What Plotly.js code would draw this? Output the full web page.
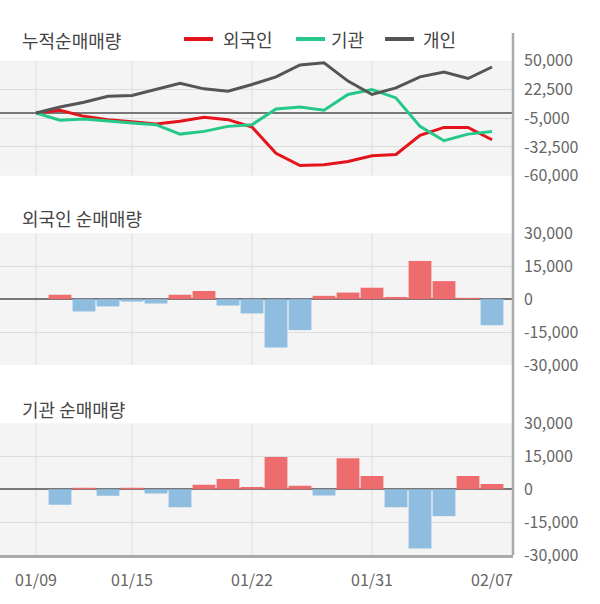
<!DOCTYPE html>
<html>
<head>
<meta charset="utf-8">
<script src="https://cdn.plot.ly/plotly-3.0.1.min.js"></script>
<style>html,body{margin:0;padding:0;background:#fff;}#chart{width:600px;height:604px;}</style>
</head>
<body>
<div id="chart"></div>
<script>
// ---- data ----
const dates = ["01/09","01/10","01/13","01/14","01/15","01/16","01/17","01/20","01/21","01/22",
               "01/23","01/28","01/29","01/30","01/31","02/03","02/04","02/05","02/06","02/07"];
const tickDates = ["01/09","01/15","01/22","01/31","02/07"];
const gridDates = ["01/09","01/15","01/22","01/31"];
const seriesNames = ["외국인","기관","개인"];
const cumForeign = [0,2600,-3200,-6400,-8300,-10600,-8000,-4100,-6400,-13500,
                    -38500,-50300,-49600,-46400,-41000,-39700,-21400,-13800,-13800,-25600];
const cumInst    = [0,-7000,-5800,-8000,-9600,-11200,-20200,-17600,-12800,-11200,
                    3800,5800,2600,17700,22500,14400,-12800,-26500,-20200,-17600];
const cumIndiv   = [0,5800,10300,16000,16700,22500,28300,23100,20900,27300,
                    34600,45900,48100,30500,17700,24000,34600,39100,33000,44000];
const barDates = dates.slice(1);
const foreignNet = [2000,-5600,-3300,-1100,-2000,2000,3700,-2900,-6500,-22000,
                    -14100,1500,3000,5200,1000,17400,8200,600,-11900];
const instNet    = [-7100,600,-3000,600,-2000,-8300,2000,4600,1000,14700,
                    1500,-2900,14100,6000,-8300,-27000,-12300,6000,2400];
const topTicks = [50000,22500,-5000,-32500,-60000];
const barTicks = [30000,15000,0,-15000,-30000];
const panelTitles = ["누적순매매량","외국인 순매매량","기관 순매매량"];

// ---- style ----
const FONT = '"Noto Sans CJK KR", "Noto Sans", sans-serif';
const lineColors = ["#e5141b","#26c88a","#555555"];
const POS = "#ee6b6e", NEG = "#8fbde0";
const PW = 513; // plot width px
const fmt = v => (v < 0 ? "-" : "") + Math.abs(v).toLocaleString("en-US");
const px = x => x / PW;
const py = y => (555 - y) / 522;

const traces = [
  {x: dates, y: cumForeign, name: seriesNames[0], type: "scatter", mode: "lines",
   line: {color: lineColors[0], width: 3}, xaxis: "x", yaxis: "y"},
  {x: dates, y: cumInst, name: seriesNames[1], type: "scatter", mode: "lines",
   line: {color: lineColors[1], width: 3}, xaxis: "x", yaxis: "y"},
  {x: dates, y: cumIndiv, name: seriesNames[2], type: "scatter", mode: "lines",
   line: {color: lineColors[2], width: 3}, xaxis: "x", yaxis: "y"},
  {x: barDates, y: foreignNet, type: "bar", name: panelTitles[1],
   marker: {color: foreignNet.map(v => v >= 0 ? POS : NEG)}, xaxis: "x2", yaxis: "y2"},
  {x: barDates, y: instNet, type: "bar", name: panelTitles[2],
   marker: {color: instNet.map(v => v >= 0 ? POS : NEG)}, xaxis: "x3", yaxis: "y3"}
];

const xBase = {type: "category", categoryorder: "array", categoryarray: dates,
  range: [-1.5, 19.875], showgrid: false, zeroline: false, showline: false,
  ticks: "", fixedrange: true};
const yBase = (domain, range, ticks) => ({domain, range, side: "right",
  tickvals: ticks, ticktext: ticks.map(fmt), showgrid: true, gridcolor: "#dddddd", gridwidth: 1,
  zeroline: true, zerolinecolor: "#777777", zerolinewidth: 2.5, showline: false, ticks: "",
  ticklabelstandoff: 10, tickfont: {family: FONT, size: 16, color: "#666666"}, fixedrange: true});

const shapes = [];
[["x","y"],["x2","y2"],["x3","y3"]].forEach(([xa, ya]) => {
  gridDates.forEach(d => shapes.push({type: "line", xref: xa, yref: ya + " domain",
    x0: d, x1: d, y0: 0, y1: 1, line: {color: "#dddddd", width: 1}, layer: "below"}));
});
// right axis line
shapes.push({type: "line", xref: "paper", yref: "paper", x0: 1, x1: 1, y0: 0, y1: 1,
  line: {color: "#aaaaaa", width: 2.5}});
// legend line samples
const legendPos = [[184, 223], [296, 331], [385, 423]];
legendPos.forEach(([lx], i) => shapes.push({type: "line", xref: "paper", yref: "paper",
  x0: px(lx), x1: px(lx + 29), y0: py(39), y1: py(39), line: {color: lineColors[i], width: 4}}));

const annotations = [];
[[40, 0], [218, 1], [409, 2]].forEach(([y, i]) => annotations.push({xref: "paper", yref: "paper",
  x: px(20), y: py(y), xanchor: "left", yanchor: "middle", showarrow: false,
  text: panelTitles[i], font: {family: FONT, size: 18, color: "#444444"}}));
legendPos.forEach(([, tx], i) => annotations.push({xref: "paper", yref: "paper",
  x: px(tx - 2), y: py(39), xanchor: "left", yanchor: "middle", showarrow: false,
  text: seriesNames[i], font: {family: FONT, size: 18, color: "#444444"}}));

const layout = {
  width: 600, height: 604,
  margin: {l: 0, r: 87, t: 33, b: 49, pad: 0},
  paper_bgcolor: "#ffffff", plot_bgcolor: "#f4f4f4",
  showlegend: false, bargap: 0.05, hovermode: false,
  font: {family: FONT, color: "#666666"},
  xaxis: Object.assign({}, xBase, {anchor: "y", showticklabels: false}),
  xaxis2: Object.assign({}, xBase, {anchor: "y2", showticklabels: false}),
  xaxis3: Object.assign({}, xBase, {anchor: "y3", showticklabels: true, tickvals: tickDates,
    showline: true, linecolor: "#aaaaaa", linewidth: 2.5, ticklabelstandoff: 9,
    tickfont: {family: FONT, size: 16, color: "#666666"}}),
  yaxis: Object.assign(yBase([0.7266, 0.9469], [-60000, 50000], topTicks), {anchor: "x"}),
  yaxis2: Object.assign(yBase([0.364, 0.6163], [-30000, 30000], barTicks), {anchor: "x2"}),
  yaxis3: Object.assign(yBase([0, 0.2523], [-30000, 30000], barTicks), {anchor: "x3"}),
  shapes, annotations
};

Plotly.newPlot("chart", traces, layout, {displayModeBar: false, staticPlot: true});
</script>
</body>
</html>
